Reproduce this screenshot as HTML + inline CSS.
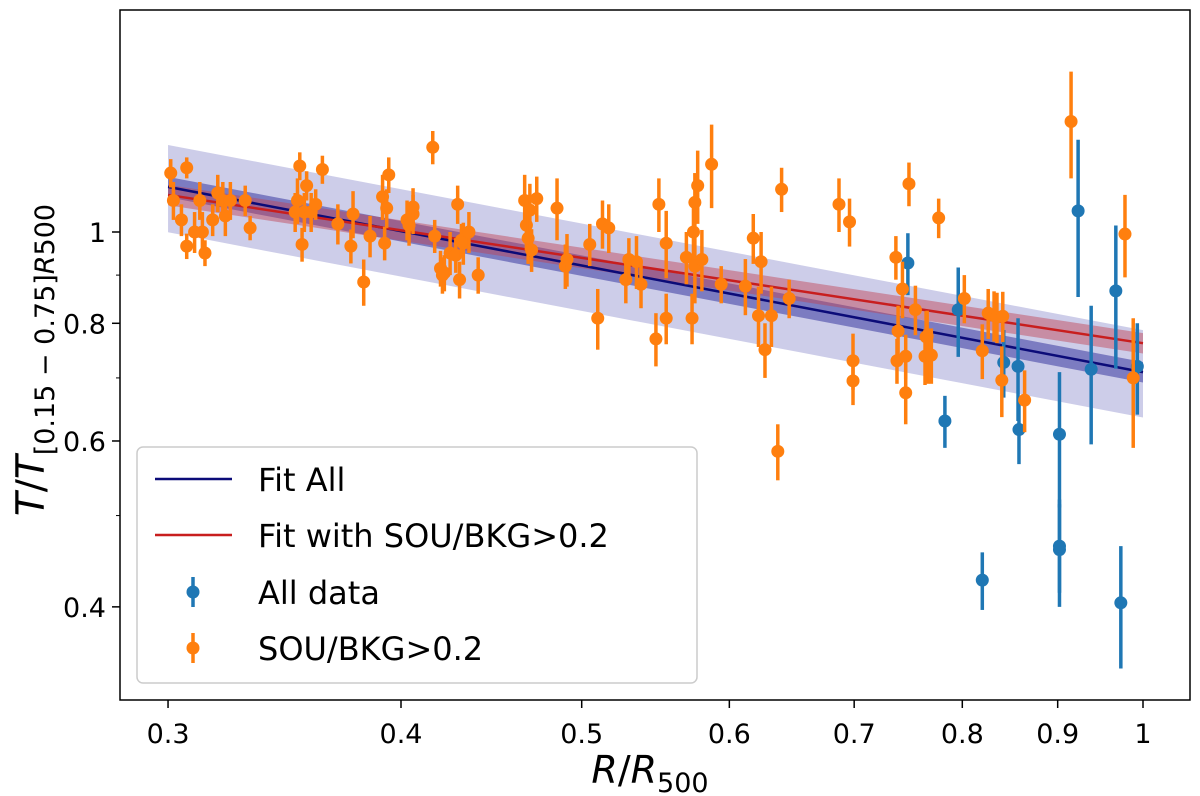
<!DOCTYPE html>
<html><head><meta charset="utf-8"><style>
body{margin:0;background:#fff;}
svg{display:block;font-family:"DejaVu Sans","Liberation Sans",sans-serif;}
</style></head><body>
<svg id="chart" width="1200" height="796">
<g id="plot"></g>
</svg>
<script>
// data (x = R/R500, y = T/T, e = error)
const oX=[0.301,0.302,0.305,0.307,0.307,0.31,0.312,0.313,0.314,0.317,0.319,0.321,0.322,0.324,0.33,0.332,0.351,0.352,0.353,0.354,0.355,0.356,0.358,0.36,0.363,0.37,0.376,0.377,0.382,0.385,0.391,0.392,0.393,0.394,0.403,0.404,0.406,0.406,0.416,0.417,0.42,0.421,0.422,0.425,0.428,0.429,0.43,0.431,0.432,0.435,0.44,0.466,0.467,0.468,0.469,0.47,0.473,0.485,0.49,0.491,0.505,0.51,0.513,0.517,0.528,0.53,0.535,0.538,0.548,0.55,0.555,0.555,0.569,0.573,0.574,0.575,0.575,0.577,0.58,0.587,0.594,0.612,0.618,0.622,0.624,0.627,0.632,0.637,0.64,0.646,0.687,0.696,0.699,0.699,0.737,0.738,0.739,0.743,0.746,0.746,0.749,0.755,0.764,0.765,0.766,0.767,0.77,0.777,0.802,0.82,0.826,0.832,0.835,0.84,0.841,0.864,0.915,0.978,0.988];
const oY=[1.155,1.08,1.03,0.966,1.17,1.0,1.08,1.0,0.95,1.03,1.1,1.08,1.04,1.08,1.08,1.01,1.05,1.08,1.175,0.97,1.05,1.12,1.05,1.07,1.165,1.02,0.966,1.045,0.885,0.99,1.09,0.973,1.06,1.15,1.03,1.017,1.045,1.063,1.23,0.99,0.915,0.9,0.905,0.95,0.945,1.07,0.89,0.98,0.973,1.0,0.9,1.08,1.017,0.985,1.055,0.957,1.085,1.06,0.92,0.935,0.97,0.81,1.02,1.01,0.89,0.935,0.93,0.88,0.77,1.07,0.973,0.81,0.94,0.81,1.0,1.075,0.92,1.12,0.935,1.18,0.88,0.876,0.985,0.815,0.93,0.75,0.815,0.585,1.11,0.85,1.07,1.025,0.73,0.695,0.94,0.73,0.785,0.87,0.738,0.675,1.125,0.827,0.738,0.774,0.775,0.74,0.74,1.035,0.85,0.748,0.82,0.815,0.812,0.696,0.814,0.663,1.31,0.995,0.7];
const oE=[0.04,0.05,0.04,0.03,0.03,0.05,0.05,0.05,0.03,0.04,0.05,0.05,0.05,0.05,0.04,0.03,0.05,0.06,0.04,0.04,0.05,0.04,0.05,0.04,0.04,0.05,0.04,0.06,0.05,0.05,0.06,0.04,0.05,0.05,0.05,0.05,0.05,0.05,0.05,0.04,0.04,0.04,0.04,0.05,0.04,0.05,0.04,0.04,0.05,0.05,0.04,0.07,0.06,0.06,0.07,0.05,0.06,0.08,0.05,0.06,0.05,0.06,0.06,0.06,0.05,0.05,0.06,0.05,0.05,0.07,0.08,0.05,0.06,0.05,0.07,0.08,0.08,0.10,0.07,0.12,0.04,0.06,0.06,0.06,0.07,0.05,0.06,0.04,0.06,0.04,0.07,0.06,0.05,0.04,0.05,0.04,0.05,0.06,0.04,0.05,0.06,0.05,0.05,0.05,0.05,0.05,0.05,0.05,0.05,0.05,0.05,0.05,0.05,0.06,0.05,0.05,0.17,0.10,0.11];
const bX=[0.748,0.796,0.783,0.82,0.842,0.857,0.858,0.902,0.902,0.902,0.923,0.938,0.967,0.973,0.993];
const bY=[0.927,0.827,0.63,0.427,0.727,0.72,0.617,0.61,0.46,0.464,1.053,0.715,0.866,0.404,0.72];
const bE=[0.07,0.09,0.04,0.03,0.06,0.09,0.05,0.10,0.06,0.05,0.20,0.12,0.15,0.06,0.08];
const fitAll=[0.71,-0.376], fitSou=[0.762,-0.301];
const xTicks=[0.3,0.4,0.5,0.6,0.7,0.8,0.9,1];
const xTickLabels=["0.3","0.4","0.5","0.6","0.7","0.8","0.9","1"];
const yTicks=[0.4,0.6,0.8,1];
const yTickLabels=["0.4","0.6","0.8","1"];
const yMinor=[0.5,0.7,0.9];

const L=120,R=1190,T=10,B=700;
const sx=v=>1143+Math.log10(v)*1864.6;
const sy=v=>232-Math.log10(v)*942;
const NS="http://www.w3.org/2000/svg";
const g=document.getElementById('plot');
function mk(tag,at,parent){const e=document.createElementNS(NS,tag);for(const k in at)e.setAttribute(k,at[k]);(parent||g).appendChild(e);return e;}
const fit=(f,x)=>f[0]*Math.pow(x,f[1]);
function band(f,lo,hi,fill,op,name){
  const xs=[];for(let i=0;i<=20;i++)xs.push(0.3*Math.pow(1/0.3,i/20));
  let d=xs.map((x,i)=>(i?'L':'M')+sx(x)+','+sy(fit(f,x)*hi)).join('');
  d+=xs.slice().reverse().map(x=>'L'+sx(x)+','+sy(fit(f,x)*lo)).join('')+'Z';
  const p=mk('path',{d:d,fill:fill,'fill-opacity':op});
  
  
}
band(fitAll,0.895,1.108,'#6f6fc0',0.35,'fit-all-scatter-band');
band(fitAll,0.975,1.025,'#3a3aa0',0.55,'fit-all-confidence-band');
band(fitSou,0.975,1.025,'#c04050',0.45,'fit-sou-confidence-band');
function line(f,col,name){
  const l=mk('line',{x1:sx(0.3),y1:sy(fit(f,0.3)),x2:sx(1),y2:sy(fit(f,1)),stroke:col,'stroke-width':2.5});
  
  
}
line(fitAll,'#0b0b78','fit-all-line');
line(fitSou,'#c81e1e','fit-sou-line');
function pts(X,Y,E,col,name){
  for(let i=0;i<X.length;i++){
    const gg=mk('g',{});
    
    
    mk('line',{x1:sx(X[i]),x2:sx(X[i]),y1:sy(Y[i]+E[i]),y2:sy(Math.max(Y[i]-E[i],0.05)),stroke:col,'stroke-width':3.5},gg);
    mk('circle',{cx:sx(X[i]),cy:sy(Y[i]),r:6.5,fill:col},gg);
  }
}
pts(bX,bY,bE,'#1f77b4','all-data-point');
pts(oX,oY,oE,'#ff7f0e','sou-bkg-point');
// frame
const fr=mk('rect',{x:L,y:T,width:R-L,height:B-T,fill:'none',stroke:'#000','stroke-width':1.5});


xTicks.forEach((v,i)=>{
  mk('line',{x1:sx(v),x2:sx(v),y1:B,y2:B+8,stroke:'#000','stroke-width':1.5});
  const t=mk('text',{x:sx(v),y:B+43,'text-anchor':'middle','font-size':27});
  t.textContent=xTickLabels[i];
  
  
});
yTicks.forEach((v,i)=>{
  mk('line',{x1:L-8,x2:L,y1:sy(v),y2:sy(v),stroke:'#000','stroke-width':1.5});
  const t=mk('text',{x:L-14,y:sy(v)+10,'text-anchor':'end','font-size':27});
  t.textContent=yTickLabels[i];
  
  
});
yMinor.forEach(v=>mk('line',{x1:L-4,x2:L,y1:sy(v),y2:sy(v),stroke:'#000','stroke-width':1}));
</script>
<svg width="1200" height="796" style="position:absolute;left:0;top:0">
<text x="650" y="783" text-anchor="middle" font-size="38" font-family="DejaVu Sans,sans-serif"><tspan font-style="italic">R</tspan>/<tspan font-style="italic">R</tspan><tspan font-size="27" dy="9">500</tspan></text>
<text transform="translate(44,360) rotate(-90)" text-anchor="middle" font-size="39" font-family="DejaVu Sans,sans-serif"><tspan font-style="italic">T</tspan>/<tspan font-style="italic">T</tspan><tspan font-size="27" dy="10">[0.15 − 0.75]<tspan font-style="italic">R</tspan>500</tspan></text>
<g>
<rect x="137" y="447" width="560" height="236" rx="6" fill="#fff" fill-opacity="0.8" stroke="#ccc" stroke-width="1.5"/>
<line x1="155" x2="232" y1="479" y2="479" stroke="#0b0b78" stroke-width="2.5"/>
<text x="258" y="491" font-size="32" font-family="DejaVu Sans,sans-serif">Fit All</text>
<line x1="155" x2="232" y1="535" y2="535" stroke="#c81e1e" stroke-width="2.5"/>
<text x="258" y="547" font-size="32" font-family="DejaVu Sans,sans-serif">Fit with SOU/BKG&gt;0.2</text>
<line x1="193" x2="193" y1="577" y2="607" stroke="#1f77b4" stroke-width="3.5"/><circle cx="193" cy="592" r="6.5" fill="#1f77b4"/>
<text x="258" y="604" font-size="32" font-family="DejaVu Sans,sans-serif">All data</text>
<line x1="193" x2="193" y1="633" y2="663" stroke="#ff7f0e" stroke-width="3.5"/><circle cx="193" cy="648" r="6.5" fill="#ff7f0e"/>
<text x="258" y="660" font-size="32" font-family="DejaVu Sans,sans-serif">SOU/BKG&gt;0.2</text>
</g>
</svg>
</body></html>
